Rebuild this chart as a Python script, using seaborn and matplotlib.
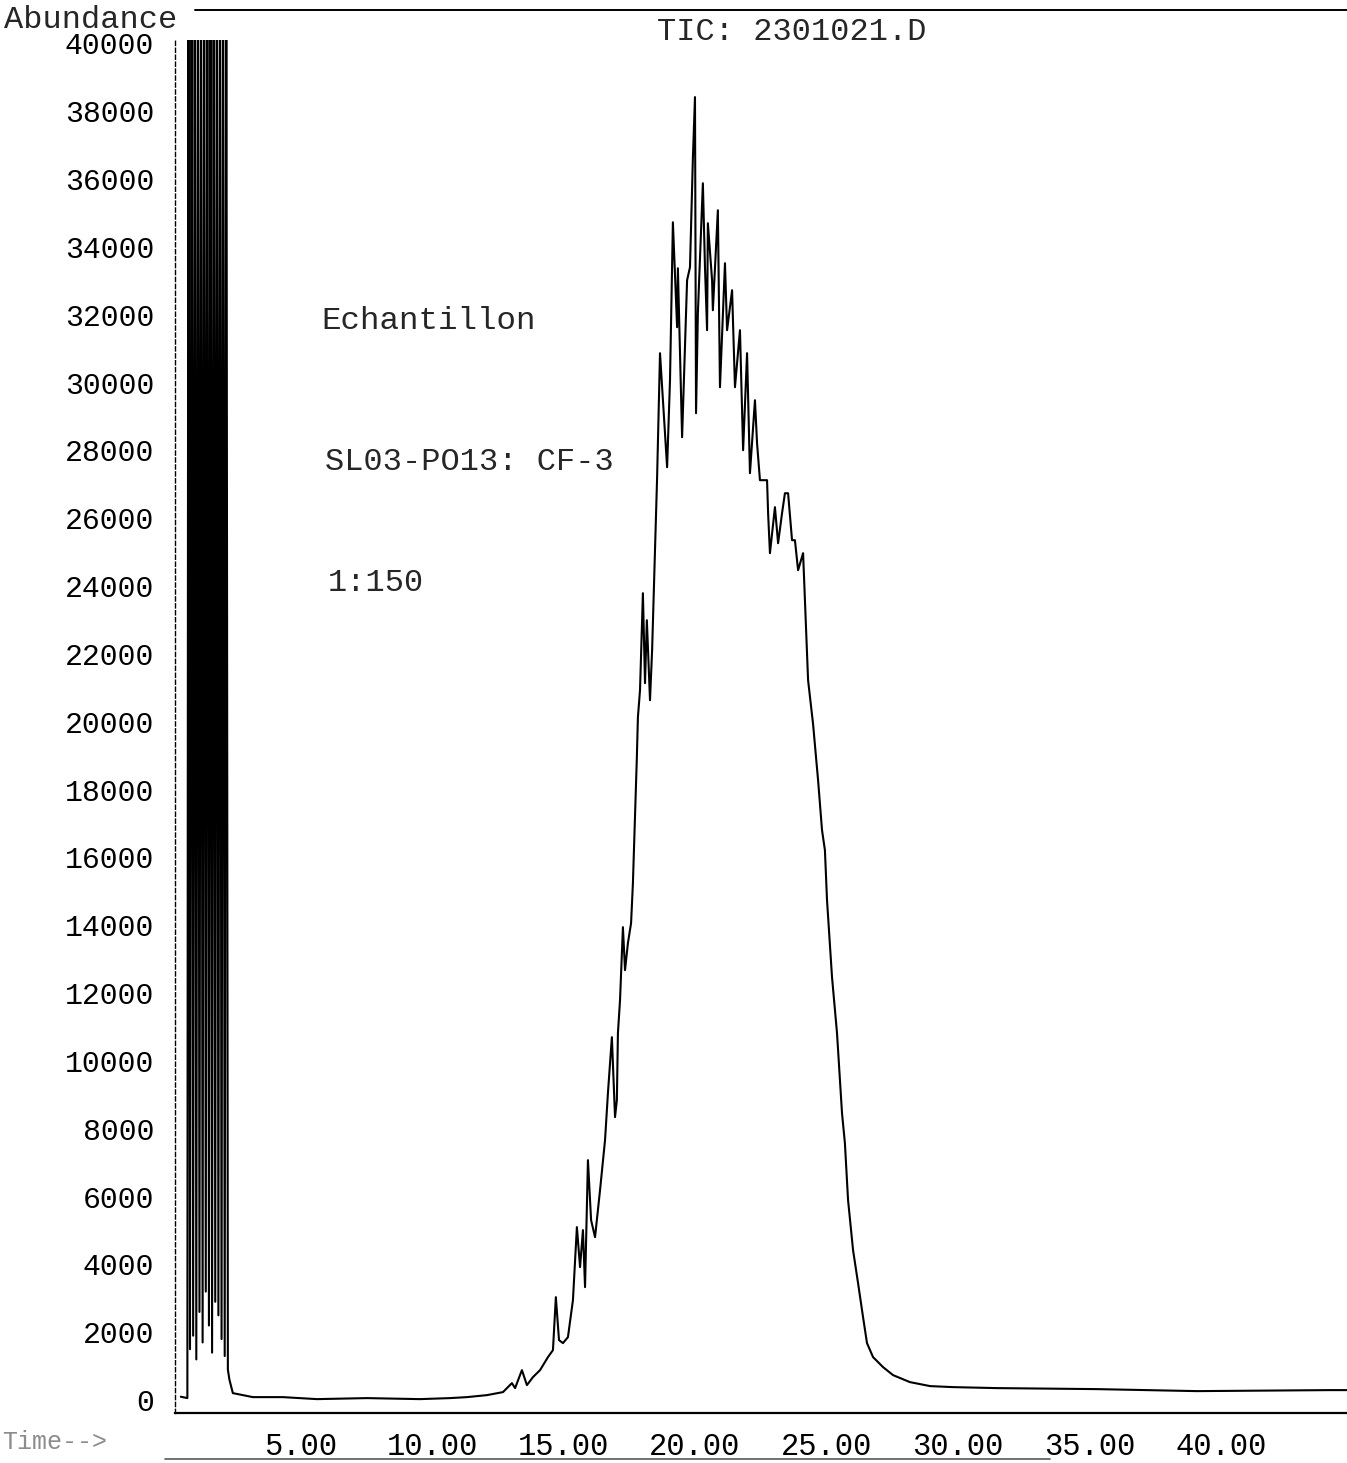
import numpy as np
import pandas as pd
import matplotlib
matplotlib.use("Agg")
import matplotlib.pyplot as plt
import seaborn as sns
from matplotlib.lines import Line2D
from matplotlib.ticker import MultipleLocator, FixedLocator

### ------------------------------------------------------------------------------------ ###
### Values (time in min, abundance)

# solvent front: off-scale spikes just after injection
solvent_time = [0.45, 0.70, 0.74, 0.80, 0.86, 0.92, 0.98, 1.04, 1.10, 1.16, 1.22,
                1.28, 1.34, 1.40, 1.46, 1.52, 1.58, 1.64, 1.70, 1.76, 1.82, 1.88,
                1.94, 2.00, 2.06, 2.12, 2.18, 2.24, 2.30]
solvent_abund = [100, 60, 45000, 1500, 45000, 1900, 45000, 1200, 45000, 2600, 45000,
                 1700, 45000, 3200, 45000, 2200, 45000, 1400, 45000, 2900, 45000,
                 2500, 45000, 1800, 45000, 1300, 45000, 900, 600]

# baseline and the broad unresolved hump
peak_time = [2.43, 3.19, 4.33, 5.63, 7.53, 9.54, 10.68, 11.33, 12.09, 12.70,
             13.04, 13.16, 13.42, 13.61, 13.84, 14.11, 14.41, 14.60, 14.71, 14.83,
             14.98, 15.17, 15.36, 15.51, 15.63, 15.74, 15.82, 15.93, 16.05, 16.20,
             16.39, 16.58, 16.69, 16.84, 16.96, 17.03, 17.07, 17.15, 17.26, 17.34,
             17.45, 17.57, 17.64, 17.72, 17.79, 17.83, 17.91, 18.02, 18.10, 18.17,
             18.29, 18.37, 18.48, 18.56, 18.67, 18.94, 19.05, 19.16, 19.32, 19.35,
             19.51, 19.70, 19.81, 19.92, 20.00, 20.04, 20.11, 20.30, 20.38, 20.46,
             20.49, 20.65, 20.68, 20.87, 20.95, 21.14, 21.22, 21.41, 21.52, 21.71,
             21.83, 21.98, 22.09, 22.28, 22.36, 22.47, 22.74, 22.78, 22.85, 23.04,
             23.16, 23.31, 23.42, 23.54, 23.69, 23.80, 23.92, 24.11, 24.18, 24.30,
             24.49, 24.68, 24.83, 24.94, 25.02, 25.21, 25.40, 25.59, 25.70, 25.82,
             26.01, 26.20, 26.39, 26.54, 26.77, 27.15, 27.53, 28.17, 28.94, 29.81,
             31.48, 35.29, 39.09, 44.14, 44.90]
peak_abund = [206, 88, 88, 29, 59, 29, 59, 88, 147, 236,
              501, 354, 884, 442, 678, 884, 1268, 1474, 3036, 1769,
              1680, 1857, 2948, 5100, 3921, 5012, 3331, 7075, 5306, 4805,
              6191, 7665, 9050, 10701, 8343, 8844, 10819, 11792, 13944, 12676,
              13472, 14062, 15241, 17187, 18956, 20135, 20931, 23790, 21137, 22994,
              20636, 22110, 25058, 27210, 30866, 27505, 30070, 34727, 31632, 33371,
              28389, 33018, 33401, 36614, 38417, 29097, 32045, 35877, 33401, 31544,
              34698, 33018, 32133, 35081, 29863, 33519, 31544, 32723, 29863, 31544,
              28006, 30866, 27328, 29480, 28212, 27122, 27122, 26149, 24970, 26326,
              25264, 26149, 26738, 26738, 25353, 25353, 24468, 24970, 23584, 21226,
              19928, 18278, 16804, 16214, 14740, 12470, 10819, 8461, 7576, 5896,
              4422, 3449, 2447, 1680, 1268, 973, 737, 531, 413, 383,
              354, 324, 265, 295, 295]

x_major = [5, 10, 15, 20, 25, 30, 35, 40]
x_labels = ["5.00", "10.00", "15.00", "20.00", "25.00", "30.00", "35.00", "40.00"]
y_major = list(range(0, 40001, 2000))
y_labels = [str(v) for v in y_major]

### ------------------------------------------------------------------------------------ ###
### Plot

df = pd.DataFrame({"Time": solvent_time + peak_time,
                   "Abundance": solvent_abund + peak_abund})

sns.set_style("white")
plt.rcParams["font.family"] = ["Liberation Mono", "DejaVu Sans Mono"]

W, H = 1347, 1463
fig = plt.figure(figsize=(W / 100, H / 100), dpi=100)
ax = fig.add_axes([175 / W, 1 - 1413 / H, (W - 175) / W, (1413 - 40) / H])

sns.lineplot(data=df, x="Time", y="Abundance", color="black", linewidth=1.5,
             estimator=None, sort=False, ax=ax)

ax.set_xlim(0.23, 44.79)
ax.set_ylim(-380, 40100)
ax.set_xlabel("")
ax.set_ylabel("")

ax.xaxis.set_major_locator(FixedLocator(x_major))
ax.set_xticklabels(x_labels)
ax.xaxis.set_minor_locator(MultipleLocator(1))
ax.yaxis.set_major_locator(FixedLocator(y_major))
ax.set_yticklabels(y_labels)
ax.yaxis.set_minor_locator(MultipleLocator(1000))

ax.tick_params(axis="x", which="major", direction="out", length=9, width=1.2,
               pad=5, labelsize=22, colors="black")
ax.tick_params(axis="x", which="minor", direction="out", length=5, width=1.0)
ax.tick_params(axis="y", which="major", direction="out", length=6, width=1.2,
               pad=9, labelsize=21.5, colors="black")
ax.tick_params(axis="y", which="minor", direction="out", length=3, width=0.8)

for s in ["top", "right"]:
    ax.spines[s].set_visible(False)
ax.spines["bottom"].set_color("black")
ax.spines["bottom"].set_linewidth(1.6)
ax.spines["left"].set_color("black")
ax.spines["left"].set_linewidth(1.0)
ax.spines["left"].set_linestyle((0, (3, 2)))

# header line, title and annotations
fig.add_artist(Line2D([195 / W, 1.0], [1 - 10 / H, 1 - 10 / H], color="black",
                      linewidth=1.4, transform=fig.transFigure))
fig.add_artist(Line2D([165 / W, 1050 / W], [1 - 1459 / H, 1 - 1459 / H],
                      color="0.35", linewidth=1.2, transform=fig.transFigure))
fig.text(792 / W, 1 - 32 / H, "TIC: 2301021.D", ha="center", va="center", fontsize=23)
fig.text(4 / W, 1 - 20 / H, "Abundance", ha="left", va="center", fontsize=23)
fig.text(2 / W, 1 - 1442 / H, "Time-->", ha="left", va="center", fontsize=18,
         color="0.55")
fig.text(321 / W, 1 - 321 / H, "Echantillon", ha="left", va="center", fontsize=23.4)
fig.text(325 / W, 1 - 462 / H, "SL03-PO13: CF-3", ha="left", va="center", fontsize=23)
fig.text(328 / W, 1 - 583 / H, "1:150", ha="left", va="center", fontsize=23)

fig.savefig("out.png", dpi=100, facecolor="white")
